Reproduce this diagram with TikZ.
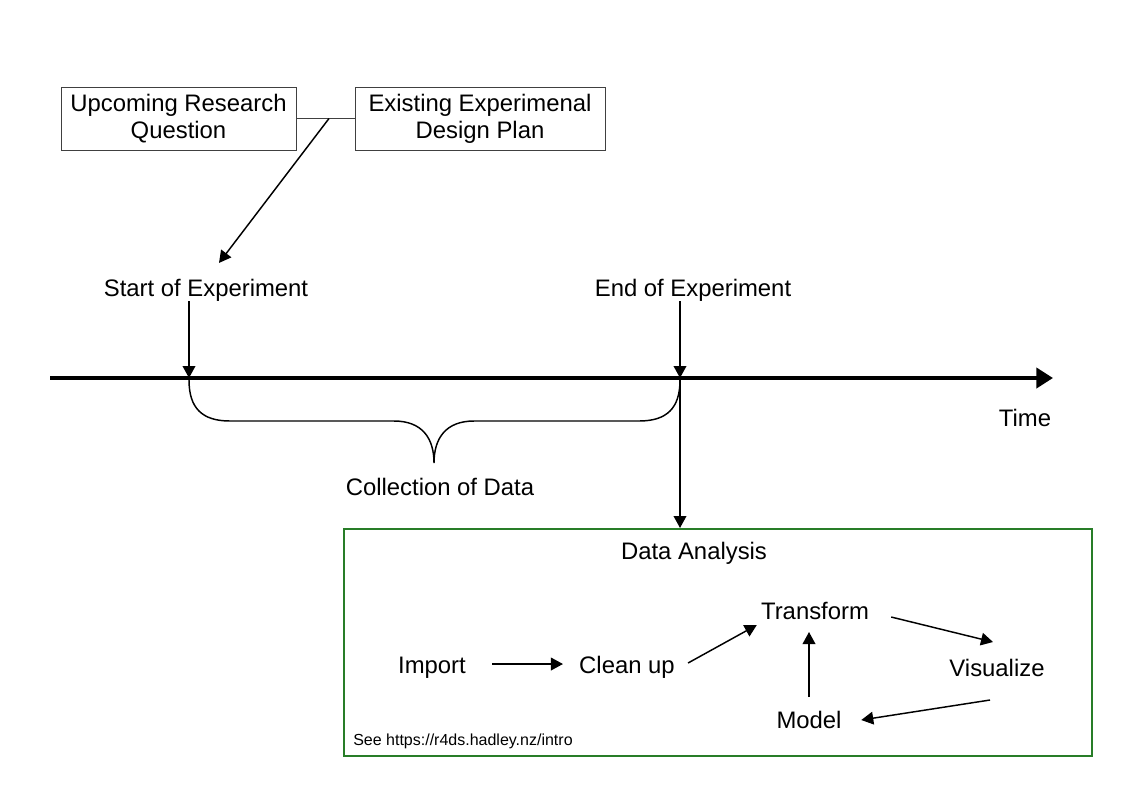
\documentclass[tikz,border=0pt]{standalone}
\usepackage{fontspec}
\setmainfont{Liberation Sans}
\usetikzlibrary{arrows.meta,calc}

\definecolor{datagreen}{RGB}{40,125,40}

\tikzset{
    lbl/.style={inner sep=0pt, anchor=base, font=\fontsize{17.9}{20.25}\selectfont},
    qbox/.style={draw=black!75, line width=0.7pt, inner sep=0pt, align=center,
        minimum height=47.25pt, font=\fontsize{17.9}{20.25}\selectfont},
    arr/.style={line width=1.1pt, -{Triangle[length=9pt,width=9.5pt]}},
}

\begin{document}
\begin{tikzpicture}[x=0.75pt, y=-0.75pt]

    % Page frame (pixel units, y downwards)
    \useasboundingbox (0,0) rectangle (1123,794);

    % Boxes at the top
    \node[qbox, minimum width=176.25pt] (quest) at (178.5,118.5) {Upcoming Research\\Question};
    \node[qbox, minimum width=187.5pt] (plan) at (480,118.5) {Existing Experimenal\\Design Plan};

    % Thin line joining the two boxes
    \draw[black!75, line width=0.7pt] (quest.east) -- (plan.west);
    \coordinate (join) at ($ (quest.east)!0.56!(plan.west) $);

    % Labels over the time line
    \node[lbl] (start) at (206,296) {Start of Experiment};
    \node[lbl] (end) at (693,296) {End of Experiment};

    % Arrow from the two boxes to the start
    \draw[arr] (join) -- ([shift={(13,-15.5)}]start.north);

    % The time line
    \coordinate (tl0) at (50,378);
    \coordinate (tl1) at (1053,378);
    \coordinate (tickA) at (189,378);
    \coordinate (tickB) at (680,378);
    \draw[line width=3pt, -{Triangle[length=12.5pt,width=15pt]}] (tl0) -- (tl1);
    \node[lbl] (time) at (1025,426.5) {Time};

    % Arrows down to the time line
    \draw[arr] (start.south -| tickA) -- (tickA);
    \draw[arr] (end.south -| tickB) -- (tickB);

    % Brace under the time line
    \draw[line width=1.1pt] (189,380) .. controls (189,408) and (202,421) .. (230,421) -- (394,421)
        .. controls (422,421) and (434,438) .. (434,463)
        .. controls (434,438) and (446,421) .. (474,421) -- (639,421)
        .. controls (667,421) and (680,408) .. (680,380);
    \node[lbl] (collect) at (440,495.5) {Collection of Data};

    % Data analysis box
    \node[draw=datagreen, line width=1.5pt, minimum width=561pt, minimum height=170.25pt] (analysis) at (718,642.5) {};
    \draw[arr] (tickB) -- (analysis.north -| tickB);
    \node[lbl] (datatitle) at (694,559.5) {Data Analysis};

    % Steps of the analysis
    \node[lbl] (import) at (432,673.5) {Import};
    \node[lbl] (cleanup) at (627,673.5) {Clean up};
    \node[lbl] (transform) at (815,619.5) {Transform};
    \node[lbl] (visualize) at (997,676.5) {Visualize};
    \node[lbl] (model) at (809,728.5) {Model};

    \draw[arr] ([shift={(26,-9.5)}]import.base east) -- ([shift={(-16,-9.5)}]cleanup.base west);
    \draw[arr] ([shift={(13,-10.5)}]cleanup.base east) -- ([shift={(-4,5.5)}]transform.base west);
    \draw[arr] ([shift={(22,-2.5)}]transform.base east) -- ([shift={(-4,-34.5)}]visualize.base);
    \draw[arr] ([shift={(-7,23.5)}]visualize.base) -- ([shift={(19.5,-8.5)}]model.base east);
    \draw[arr] ([shift={(0,-31.5)}]model.base) -- ([shift={(0,12.5)}]model.base |- transform.base);

    % Source note
    \node[inner sep=0pt, anchor=base west, font=\fontsize{12}{14}\selectfont] (note) at (353,745.5) {See https://r4ds.hadley.nz/intro};

\end{tikzpicture}
\end{document}
